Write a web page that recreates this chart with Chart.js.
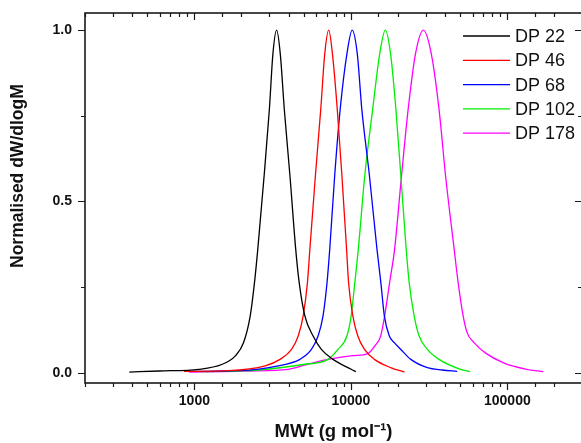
<!DOCTYPE html>
<html>
<head>
<meta charset="utf-8">
<script src="https://cdn.jsdelivr.net/npm/chart.js@4.4.0/dist/chart.umd.min.js"></script>
<style>
  html, body { margin: 0; padding: 0; background: #fff; overflow: hidden; }
  #wrap { width: 592px; height: 443px; }
</style>
</head>
<body>
<div id="wrap"><canvas id="gpc" width="592" height="443"></canvas></div>
<script>
// GPC traces (MW in g/mol, normalised dW/dlogM)
const seriesLabels = ['DP 22', 'DP 46', 'DP 68', 'DP 102', 'DP 178']
const seriesColors = ['#000000', '#ff0000', '#0000ff', '#00ee00', '#ff00ff']

const mwDP22 = [384, 595, 1068, 1495, 1827, 2063, 2275, 2422, 2542, 2791, 3016, 3175, 3355, 3541, 3754, 4081, 4443, 4676, 5082, 5739, 6479, 7688, 10044, 10758]
const wDP22  = [0.002, 0.005, 0.01, 0.024, 0.049, 0.088, 0.166, 0.263, 0.36, 0.575, 0.77, 0.93, 1.0, 0.93, 0.77, 0.575, 0.36, 0.263, 0.166, 0.107, 0.068, 0.039, 0.01, 0.003]

const mwDP46 = [858, 1656, 2832, 3526, 4178, 4608, 4958, 5279, 5469, 5934, 6424, 6808, 7218, 7629, 8185, 8768, 9391, 9670, 10297, 11076, 12218, 14145, 17947, 22021]
const wDP46  = [0.004, 0.006, 0.02, 0.039, 0.068, 0.107, 0.166, 0.263, 0.36, 0.575, 0.77, 0.93, 1.0, 0.93, 0.77, 0.575, 0.36, 0.263, 0.166, 0.107, 0.068, 0.039, 0.015, 0.002]

const mwDP68 = [923, 1917, 3440, 4725, 5597, 6172, 6641, 7043, 7327, 7882, 8551, 9432, 10193, 10998, 11744, 13145, 14690, 15548, 16368, 17609, 18946, 20866, 24156, 30831, 38377, 47788]
const wDP68  = [0.004, 0.006, 0.02, 0.039, 0.068, 0.107, 0.166, 0.263, 0.36, 0.575, 0.77, 0.93, 1.0, 0.93, 0.77, 0.575, 0.36, 0.263, 0.166, 0.107, 0.088, 0.068, 0.039, 0.015, 0.008, 0.004]

const mwDP102 = [1068, 2568, 4958, 7145, 8270, 9432, 10044, 10602, 11159, 12269, 13795, 15280, 16610, 17947, 19392, 20866, 22577, 23592, 25375, 27311, 30831, 36582, 50154, 57805]
const wDP102  = [0.003, 0.008, 0.024, 0.039, 0.068, 0.107, 0.166, 0.263, 0.36, 0.575, 0.77, 0.93, 1.0, 0.93, 0.77, 0.575, 0.36, 0.263, 0.166, 0.107, 0.068, 0.039, 0.01, 0.003]

const mwDP178 = [923, 2218, 3981, 5333, 7145, 10297, 12823, 14205, 15505, 16443, 17687, 19029, 21077, 23251, 25865, 29078, 32686, 36582, 40290, 45740, 48490, 52180, 55330, 61270, 72310, 94607, 132970, 169800]
const wDP178  = [0.002, 0.005, 0.01, 0.025, 0.039, 0.05, 0.056, 0.078, 0.107, 0.166, 0.263, 0.36, 0.575, 0.77, 0.93, 1.0, 0.93, 0.77, 0.575, 0.36, 0.263, 0.166, 0.117, 0.088, 0.058, 0.029, 0.01, 0.003]

const xLabels = [1000, 10000, 100000]
const yLabels = [0, 0.5, 1]

var allMw = [mwDP22, mwDP46, mwDP68, mwDP102, mwDP178]
var allW = [wDP22, wDP46, wDP68, wDP102, wDP178]

var datasets = []
for (var i = 0; i < seriesLabels.length; i++) {
    var pts = []
    for (var j = 0; j < allMw[i].length; j++) {
        pts.push({x: allMw[i][j], y: allW[i][j]})
    }
    datasets.push({
        label: seriesLabels[i],
        data: pts,
        borderColor: seriesColors[i],
        borderWidth: 1.3,
        pointRadius: 0,
        fill: false,
        cubicInterpolationMode: 'monotone'
    })
}

// origin style frame: ticks out on left/bottom, in on top/right
const frameTicks = {
    id: 'frameTicks',
    afterDatasetsDraw(chart) {
        const ctx = chart.ctx
        const a = chart.chartArea
        const xs = chart.scales.x
        const ys = chart.scales.y
        ctx.save()
        ctx.strokeStyle = '#1a1a1a'
        ctx.lineWidth = 1.2
        ctx.beginPath()
        xs.ticks.forEach(t => {
            const px = Math.round(xs.getPixelForValue(t.value)) + 0.5
            const len = xLabels.includes(t.value) ? 7 : 4
            ctx.moveTo(px, a.bottom); ctx.lineTo(px, a.bottom + len)
            ctx.moveTo(px, a.top); ctx.lineTo(px, a.top + len)
        })
        ys.ticks.forEach(t => {
            if (t.value < 0 || t.value > 1) return
            const py = Math.round(ys.getPixelForValue(t.value)) + 0.5
            const len = yLabels.includes(t.value) ? 7 : 4
            ctx.moveTo(a.left, py); ctx.lineTo(a.left - len, py)
            ctx.moveTo(a.right, py); ctx.lineTo(a.right - len, py)
        })
        ctx.stroke()
        ctx.lineWidth = 1.6
        ctx.strokeRect(a.left, a.top, a.right - a.left, a.bottom - a.top)
        ctx.restore()
    }
}

// legend inside the plot, top right
const insideLegend = {
    id: 'insideLegend',
    afterDatasetsDraw(chart) {
        const ctx = chart.ctx
        ctx.save()
        ctx.font = '18px "Liberation Sans", Arial, sans-serif'
        ctx.textBaseline = 'middle'
        ctx.textAlign = 'left'
        chart.data.datasets.forEach((ds, i) => {
            const yy = 36 + i * 24.3
            ctx.strokeStyle = ds.borderColor
            ctx.lineWidth = 1.3
            ctx.beginPath()
            ctx.moveTo(463, yy)
            ctx.lineTo(510, yy)
            ctx.stroke()
            ctx.fillStyle = '#111'
            ctx.fillText(ds.label, 515, yy + 1)
        })
        ctx.restore()
    }
}

var ctx = document.getElementById('gpc').getContext('2d')
var gpcChart = new Chart(ctx, {
    type: 'line',
    data: { datasets: datasets },
    plugins: [frameTicks, insideLegend],
    options: {
        responsive: false,
        animation: false,
        layout: { padding: { top: 13, right: 6, bottom: 0, left: 0 } },
        plugins: {
            legend: { display: false },
            tooltip: { enabled: false }
        },
        scales: {
            x: {
                type: 'logarithmic',
                min: 200,
                max: 300000,
                grid: { display: false, drawTicks: false },
                border: { display: false },
                ticks: {
                    autoSkip: false,
                    maxRotation: 0,
                    padding: 10,
                    color: '#111',
                    font: { family: '"Liberation Sans", Arial, sans-serif', size: 14, weight: 'bold' },
                    callback: function (value) {
                        return xLabels.includes(value) ? String(value) : ''
                    }
                },
                title: {
                    display: true,
                    text: 'MWt (g mol\u207B\u00B9)',
                    color: '#111',
                    padding: { top: 0, bottom: 0 },
                    font: { family: '"Liberation Sans", Arial, sans-serif', size: 18.5, weight: 'bold' }
                },
                afterFit: function (scale) { scale.height = 60 }
            },
            y: {
                min: -0.03,
                max: 1.05,
                grid: { display: false, drawTicks: false },
                border: { display: false },
                ticks: {
                    stepSize: 0.25,
                    includeBounds: false,
                    padding: 13,
                    color: '#111',
                    font: { family: '"Liberation Sans", Arial, sans-serif', size: 14, weight: 'bold' },
                    callback: function (value) {
                        return yLabels.includes(value) ? value.toFixed(1) : ''
                    }
                },
                title: {
                    display: true,
                    // leading spaces push the label up, it sits above centre in the original
                    text: '         Normalised dW/dlogM',
                    color: '#111',
                    padding: { top: 8, bottom: 0 },
                    font: { family: '"Liberation Sans", Arial, sans-serif', size: 17.5, weight: 'bold' }
                },
                afterFit: function (scale) {
                    scale.width = 85
                    scale.paddingTop = 0
                    scale.paddingBottom = 0
                }
            }
        }
    }
})
</script>
</body>
</html>
